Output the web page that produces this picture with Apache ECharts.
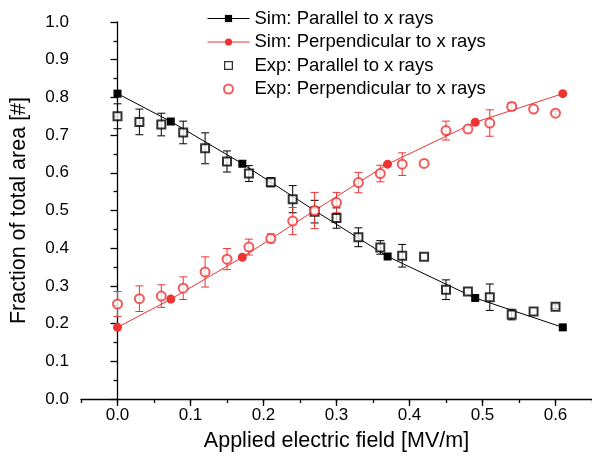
<!DOCTYPE html>
<html>
<head>
<meta charset="utf-8">
<script src="https://cdn.jsdelivr.net/npm/echarts@6/dist/echarts.min.js"></script>
<style>
html, body { margin: 0; padding: 0; background: #fff; }
#chart { width: 592px; height: 462px; }
</style>
</head>
<body>
<div id="chart"></div>
<script>
// simulation
var simField = [0, 0.073, 0.171, 0.27, 0.37, 0.49, 0.61];
var simParallel = [0.81, 0.736, 0.624, 0.50, 0.378, 0.268, 0.19];
var simPerp = [0.19, 0.265, 0.376, 0.50, 0.623, 0.734, 0.81];

// experiment
var expField = [0, 0.03, 0.06, 0.09, 0.12, 0.15, 0.18, 0.21, 0.24, 0.27, 0.30,
  0.33, 0.36, 0.39, 0.42, 0.45, 0.48, 0.51, 0.54, 0.57, 0.60];
var expParallel = [0.75, 0.735, 0.728, 0.707, 0.665, 0.630, 0.598, 0.575, 0.530, 0.497, 0.480,
  0.429, 0.402, 0.380, 0.377, 0.290, 0.285, 0.270, 0.224, 0.232, 0.245];
var expParallelErr = [0.033, 0.034, 0.030, 0.030, 0.041, 0.028, 0.021, 0.012, 0.036, 0.030, 0.027,
  0.025, 0.018, 0.030, 0, 0.026, 0, 0.035, 0.014, 0, 0.005];
var expPerp = [0.252, 0.266, 0.273, 0.294, 0.337, 0.371, 0.403, 0.426, 0.472, 0.50, 0.521,
  0.574, 0.598, 0.623, 0.625, 0.712, 0.716, 0.732, 0.776, 0.769, 0.758];
var expPerpErr = [0.033, 0.034, 0.030, 0.030, 0.040, 0.028, 0.021, 0.012, 0.036, 0.048, 0.027,
  0.027, 0.022, 0.030, 0, 0.025, 0, 0.035, 0.010, 0, 0.005];

var xTicks = [0, 0.1, 0.2, 0.3, 0.4, 0.5, 0.6];

var RED = "#ee3333";
var FONT = "Liberation Sans, Arial, sans-serif";
// hollow square for the legend (built-in rect gets stretched)
var SQUARE_ICON = "path://M0 0H10V10H0ZM1.4 1.4V8.6H8.6V1.4Z";

function pairs(xs, ys) {
  return xs.map(function (x, i) { return [x, ys[i]]; });
}

function errData(xs, ys, es) {
  var out = [];
  xs.forEach(function (x, i) {
    if (es[i] > 0) out.push([x, ys[i] - es[i], ys[i] + es[i]]);
  });
  return out;
}

function errRender(color) {
  return function (params, api) {
    var lo = api.coord([api.value(0), api.value(1)]);
    var hi = api.coord([api.value(0), api.value(2)]);
    var w = 4;
    var st = { stroke: color, lineWidth: 1 };
    return {
      type: "group",
      children: [
        { type: "line", shape: { x1: lo[0], y1: lo[1], x2: hi[0], y2: hi[1] }, style: st },
        { type: "line", shape: { x1: lo[0] - w, y1: lo[1], x2: lo[0] + w, y2: lo[1] }, style: st },
        { type: "line", shape: { x1: hi[0] - w, y1: hi[1], x2: hi[0] + w, y2: hi[1] }, style: st }
      ]
    };
  };
}

var chart = echarts.init(document.getElementById("chart"));

var option = {
  animation: false,
  backgroundColor: "#fff",
  textStyle: { fontFamily: FONT },
  grid: { left: 80, right: -2, top: 22, bottom: 63, containLabel: false },
  legend: {
    orient: "vertical",
    left: 202,
    top: 4,
    itemWidth: 42,
    itemHeight: 9,
    itemGap: 4.5,
    lineStyle: { width: 1 },
    textStyle: { fontSize: 18.5, color: "#000", fontFamily: FONT },
    data: [
      "Sim: Parallel to x rays",
      "Sim: Perpendicular to x rays",
      {
        name: "Exp: Parallel to x rays",
        icon: SQUARE_ICON,
        itemStyle: { color: "#000", borderWidth: 0 }
      },
      "Exp: Perpendicular to x rays"
    ]
  },
  xAxis: [
    {
      type: "value",
      min: -0.05,
      max: 0.65,
      name: "Applied electric field [MV/m]",
      nameLocation: "middle",
      nameGap: 31,
      nameTextStyle: { fontSize: 21.5, color: "#000", fontFamily: FONT },
      axisLine: { lineStyle: { color: "#000", width: 1.3 } },
      axisTick: { length: 7, customValues: xTicks, lineStyle: { color: "#000", width: 1.3 } },
      axisLabel: {
        customValues: xTicks,
        fontSize: 17,
        color: "#000",
        margin: 8,
        formatter: function (v) { return v.toFixed(1); }
      },
      splitLine: { show: false }
    },
    {
      type: "value",
      position: "bottom",
      min: -0.05,
      max: 0.65,
      interval: 0.05,
      axisLine: { show: false },
      axisTick: { length: 4, lineStyle: { color: "#000", width: 1.3 } },
      axisLabel: { show: false },
      splitLine: { show: false }
    }
  ],
  yAxis: {
    type: "value",
    min: 0,
    max: 1,
    interval: 0.1,
    name: "Fraction of total area [#]",
    nameLocation: "middle",
    nameGap: 51,
    nameTextStyle: { fontSize: 21.5, color: "#000", fontFamily: FONT },
    axisLine: { show: true, lineStyle: { color: "#000", width: 1.3 } },
    axisTick: { show: true, length: 7, lineStyle: { color: "#000", width: 1.3 } },
    minorTick: { show: true, splitNumber: 2, length: 4, lineStyle: { color: "#000", width: 1.3 } },
    axisLabel: {
      fontSize: 17,
      color: "#000",
      margin: 12,
      formatter: function (v) { return v.toFixed(1); }
    },
    splitLine: { show: false }
  },
  series: [
    {
      name: "errPar",
      type: "custom",
      renderItem: errRender("#000"),
      encode: { x: 0, y: [1, 2] },
      data: errData(expField, expParallel, expParallelErr),
      z: 1
    },
    {
      name: "errPerp",
      type: "custom",
      renderItem: errRender(RED),
      encode: { x: 0, y: [1, 2] },
      data: errData(expField, expPerp, expPerpErr),
      z: 1
    },
    {
      name: "Sim: Parallel to x rays",
      type: "line",
      data: pairs(simField, simParallel),
      symbol: "rect",
      symbolSize: 8,
      showSymbol: true,
      color: "#000",
      itemStyle: { color: "#000" },
      lineStyle: { color: "#000", width: 1 },
      z: 2
    },
    {
      name: "Sim: Perpendicular to x rays",
      type: "line",
      data: pairs(simField, simPerp),
      symbol: "circle",
      symbolSize: 9,
      showSymbol: true,
      color: RED,
      itemStyle: { color: RED },
      lineStyle: { color: RED, width: 1 },
      z: 2
    },
    {
      name: "Exp: Parallel to x rays",
      type: "scatter",
      data: pairs(expField, expParallel),
      symbol: "emptyRect",
      symbolSize: 8,
      color: "#000",
      itemStyle: { color: "#000", borderColor: "#000", borderWidth: 1.2 },
      z: 3
    },
    {
      name: "Exp: Perpendicular to x rays",
      type: "scatter",
      data: pairs(expField, expPerp),
      symbol: "emptyCircle",
      symbolSize: 9,
      color: RED,
      itemStyle: { color: RED, borderColor: RED, borderWidth: 1.2 },
      z: 3
    }
  ]
};

chart.setOption(option);
</script>
</body>
</html>
